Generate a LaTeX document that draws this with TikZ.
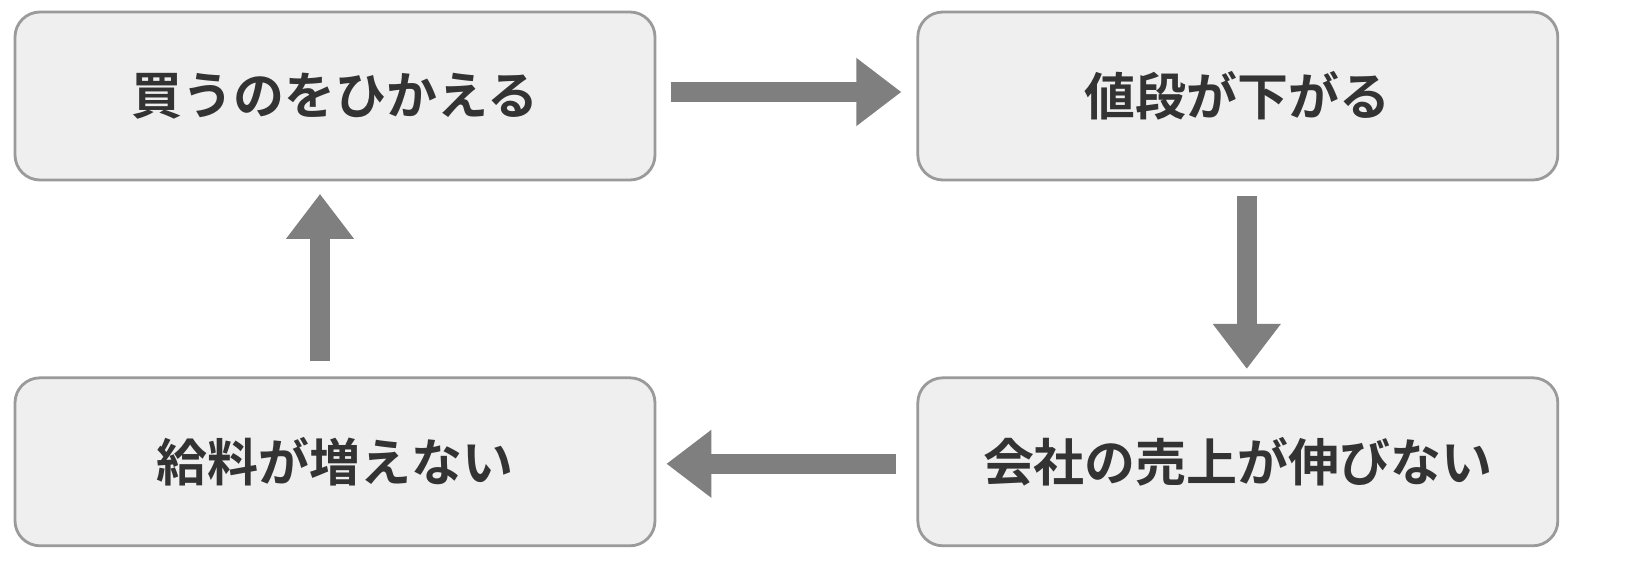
\documentclass[tikz,border=0pt]{standalone}
\usepackage{fontspec}
\newfontfamily\jpfont[BoldFont={Noto Sans CJK JP Bold}]{Noto Sans CJK JP}
\usetikzlibrary{arrows.meta,positioning}
\definecolor{boxfill}{HTML}{EFEFEF}
\definecolor{boxline}{HTML}{9A9A9A}
\definecolor{arrowgray}{HTML}{7F7F7F}
\tikzset{
  stage/.style={draw=boxline, line width=1.6pt, fill=boxfill, rounded corners=0.5cm,
    minimum width=12.8cm, minimum height=3.36cm,
    font=\jpfont\bfseries\fontsize{29}{33}\selectfont, text=black!80},
  flow/.style={draw=arrowgray, line width=0.4cm,
    -{Triangle[width=1.3cm,length=0.9cm]}}
}
\begin{document}
\begin{tikzpicture}
  \fill[white] (0,0) rectangle (32.52,-11.66);
  \useasboundingbox (0,0) rectangle (32.52,-11.66);
  \node[stage] (buy) at (6.7,-1.92) {買うのをひかえる};
  \node[stage, right=5.2cm of buy] (price) {値段が下がる};
  \node[stage, below=3.9cm of price] (sales) {会社の売上が伸びない};
  \node[stage, below=3.9cm of buy] (wage) {給料が増えない};

  \draw[flow] ([xshift=0.3cm,yshift=0.08cm]buy.east) -- ([xshift=-0.3cm,yshift=0.08cm]price.west);
  \draw[flow] ([xshift=0.18cm,yshift=-0.3cm]price.south) -- ([xshift=0.18cm,yshift=0.15cm]sales.north);
  \draw[flow] ([xshift=-0.4cm,yshift=-0.04cm]sales.west) -- ([xshift=0.2cm,yshift=-0.04cm]wage.east);
  \draw[flow] ([xshift=-0.3cm,yshift=0.3cm]wage.north) -- ([xshift=-0.3cm,yshift=-0.25cm]buy.south);
\end{tikzpicture}
\end{document}
